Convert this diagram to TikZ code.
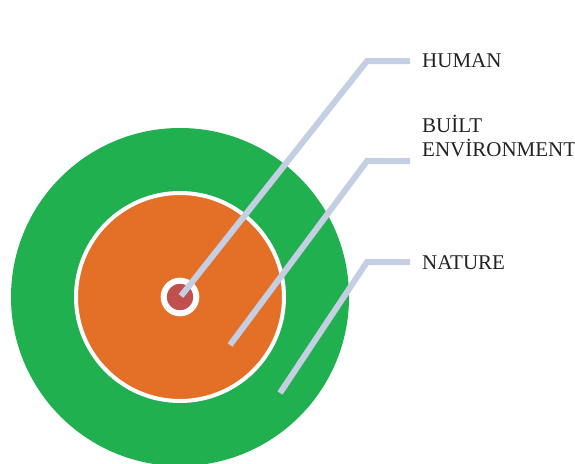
\documentclass[tikz,border=0pt]{standalone}
\usepackage{fontspec}
\setmainfont{Liberation Serif}
\usetikzlibrary{calc}

\definecolor{natgreen}{HTML}{21B04F}
\definecolor{builtorange}{HTML}{E46F26}
\definecolor{humanred}{HTML}{C0504D}
\definecolor{leader}{HTML}{C5CFE3}
\definecolor{labeltext}{HTML}{222222}

\tikzset{
  ring/.style={draw=white, line width=4pt},
  leaderline/.style={draw=leader, line width=6pt},
  layerlabel/.style={anchor=base west, inner sep=0pt, text=labeltext,
    font=\fontsize{21}{24}\selectfont, align=left}
}

\begin{document}
\begin{tikzpicture}[x=1pt,y=-1pt]
\useasboundingbox (0,0) rectangle (575,463);
\coordinate (c) at (180,297);

% the three layers
\fill [natgreen] (c) circle (169);
\draw [ring, fill=builtorange] (c) circle (104);
\draw [ring, line width=6pt, fill=humanred] (c) circle (16.3);

% leader lines
\coordinate (h_end) at (181,296);
\coordinate (h_bend) at (367,61);
\coordinate (h_tip) at (410,61);

\coordinate (b_end) at (230,345);
\coordinate (b_bend) at (367,161);
\coordinate (b_tip) at (410,161);

\coordinate (n_end) at (280,393);
\coordinate (n_bend) at (367,262);
\coordinate (n_tip) at (410,262);

\draw [leaderline] (h_end)--(h_bend)--(h_tip);
\draw [leaderline] (b_end)--(b_bend)--(b_tip);
\draw [leaderline] (n_end)--(n_bend)--(n_tip);

% labels
\node [layerlabel] (human) at (422,67) {HUMAN};
\node [layerlabel] (built) at (422,156) {BUİLT\\ENVİRONMENT};
\node [layerlabel] (nature) at (422,269) {NATURE};
\end{tikzpicture}
\end{document}
